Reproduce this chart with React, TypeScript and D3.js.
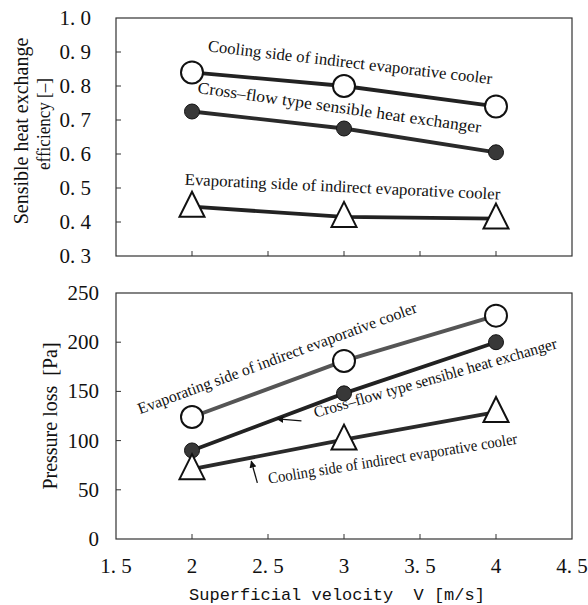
import React from "react";
import * as d3 from "d3";

// superficial velocity [m/s]
const velocity = [2, 3, 4];

// sensible heat exchange efficiency [-]
const effCooling = [0.84, 0.8, 0.74];
const effCross = [0.725, 0.675, 0.605];
const effEvap = [0.445, 0.415, 0.41];

// pressure loss [Pa]
const dpEvap = [124, 181, 227];
const dpCross = [90, 148, 200];
const dpCooling = [71, 101, 129];

const xTicks = [1.5, 2, 2.5, 3, 3.5, 4, 4.5];
const xTickLabels = ["1. 5", "2", "2. 5", "3", "3. 5", "4", "4. 5"];
const effTicks = [0.3, 0.4, 0.5, 0.6, 0.7, 0.8, 0.9, 1.0];
const effTickLabels = ["0. 3", "0. 4", "0. 5", "0. 6", "0. 7", "0. 8", "0. 9", "1. 0"];
const dpTicks = [0, 50, 100, 150, 200, 250];
const dpTickLabels = ["0", "50", "100", "150", "200", "250"];

// curve labels, placed in data units: [text, x, y, angle, length]
const effNotes: [string, number, number, number, number][] = [
  ["Cooling side of indirect evaporative cooler", 3.04, 0.87, 6.6, 286],
  ["Cross–flow type sensible heat exchanger", 2.97, 0.737, 8, 286],
  ["Evaporating side of indirect evaporative cooler", 2.99, 0.504, 2.7, 316],
];
const dpNotes: [string, number, number, number, number][] = [
  ["Evaporating side of indirect evaporative cooler", 2.56, 184, -20.2, 296],
  ["Cross–flow type sensible heat exchanger", 3.6, 164, -16, 252],
  ["Cooling side of indirect evaporative cooler", 3.32, 82, -9.1, 252],
];
// leader arrows: [tailX, tailY, tipX, tipY]
const dpArrows = [
  [2.72, 120, 2.56, 122],
  [2.43, 57, 2.39, 79],
];

const W = 588;
const H = 605;
const left = 116;
const right = 572;

const x = d3.scaleLinear().domain([1.5, 4.5]).range([left, right]);
const yEff = d3.scaleLinear().domain([0.3, 1.0]).range([256, 18]);
const yDp = d3.scaleLinear().domain([0, 250]).range([539, 293]);

const serif = "'Liberation Serif', 'Times New Roman', serif";
const mono = "'Liberation Mono', 'DejaVu Sans Mono', monospace";

const tri = "M0,-15L12.5,10L-12.5,10Z";

function Series({ vals, y, marker, color }: { vals: number[]; y: d3.ScaleLinear<number, number>; marker: string; color: string }) {
  const pts = velocity.map((v, i) => [x(v), y(vals[i])] as [number, number]);
  const line = d3.line()(pts) || "";
  return (
    <g>
      <path d={line} fill="none" stroke={color} strokeWidth={3.8} />
      {pts.map(([px, py], i) => {
        if (marker === "open") return <circle key={i} cx={px} cy={py} r={11} fill="#fff" stroke="#111" strokeWidth={2} />;
        if (marker === "filled") return <circle key={i} cx={px} cy={py} r={7.5} fill="#383838" stroke="#111" strokeWidth={1} />;
        return <path key={i} d={tri} transform={`translate(${px},${py})`} fill="#fff" stroke="#111" strokeWidth={2} />;
      })}
    </g>
  );
}

function Frame({ y, ticks }: { y: d3.ScaleLinear<number, number>; ticks: number[] }) {
  const [y0, y1] = y.range();
  return (
    <g>
      <rect x={left} y={y1} width={right - left} height={y0 - y1} fill="none" stroke="#333" strokeWidth={1.2} />
      {xTicks.slice(1, -1).map((t) => (
        <line key={"x" + t} x1={x(t)} x2={x(t)} y1={y0} y2={y0 - 5} stroke="#333" strokeWidth={1} />
      ))}
      {ticks.slice(1, -1).map((t) => (
        <line key={"y" + t} x1={left} x2={left + 5} y1={y(t)} y2={y(t)} stroke="#333" strokeWidth={1} />
      ))}
    </g>
  );
}

function Notes({ notes, y, size }: { notes: [string, number, number, number, number][]; y: d3.ScaleLinear<number, number>; size: number }) {
  return (
    <g>
      {notes.map(([t, nx, ny, a, len], i) => (
        <text key={i} transform={`translate(${x(nx)},${y(ny)}) rotate(${a})`} textAnchor="middle" dominantBaseline="central" fontFamily={serif} fontSize={size} textLength={len} lengthAdjust="spacingAndGlyphs" fill="#111">
          {t}
        </text>
      ))}
    </g>
  );
}

export default function App() {
  return (
    <svg width={W} height={H} style={{ position: "absolute", left: 0, top: 0, background: "#fff" }}>
      <defs>
        <marker id="ah" viewBox="0 0 10 10" refX="9" refY="5" markerWidth="7" markerHeight="7" markerUnits="userSpaceOnUse" orient="auto">
          <path d="M0,0L10,5L0,10Z" fill="#111" />
        </marker>
      </defs>

      {/* top panel: efficiency */}
      <Frame y={yEff} ticks={effTicks} />
      <Series vals={effCooling} y={yEff} marker="open" color="#222" />
      <Series vals={effCross} y={yEff} marker="filled" color="#2a2a2a" />
      <Series vals={effEvap} y={yEff} marker="tri" color="#222" />
      <Notes notes={effNotes} y={yEff} size={16.5} />
      {effTicks.map((t, i) => (
        <text key={t} x={91} y={yEff(t)} textAnchor="end" dominantBaseline="central" fontFamily={serif} fontSize={21} fill="#111" style={{ whiteSpace: "pre" }}>
          {effTickLabels[i]}
        </text>
      ))}
      <text transform={`translate(28,131) rotate(-90)`} textAnchor="middle" fontFamily={serif} fontSize={20} fill="#111">
        Sensible heat exchange
      </text>
      <text transform={`translate(50,124) rotate(-90)`} textAnchor="middle" fontFamily={serif} fontSize={19} textLength={92} lengthAdjust="spacingAndGlyphs" fill="#111">
        efficiency [–]
      </text>

      {/* bottom panel: pressure loss */}
      <Frame y={yDp} ticks={dpTicks} />
      <Series vals={dpEvap} y={yDp} marker="open" color="#555" />
      <Series vals={dpCross} y={yDp} marker="filled" color="#222" />
      <Series vals={dpCooling} y={yDp} marker="tri" color="#2a2a2a" />
      <Notes notes={dpNotes} y={yDp} size={16} />
      {dpArrows.map(([ax, ay, bx, by], i) => (
        <line key={i} x1={x(ax)} y1={yDp(ay)} x2={x(bx)} y2={yDp(by)} stroke="#111" strokeWidth={1.3} markerEnd="url(#ah)" />
      ))}
      {dpTicks.map((t, i) => (
        <text key={t} x={99} y={yDp(t)} textAnchor="end" dominantBaseline="central" fontFamily={serif} fontSize={21} fill="#111">
          {dpTickLabels[i]}
        </text>
      ))}
      <text transform={`translate(57,416) rotate(-90)`} textAnchor="middle" fontFamily={serif} fontSize={20} fill="#111" style={{ whiteSpace: "pre" }}>
        {"Pressure loss  [Pa]"}
      </text>

      {xTicks.map((t, i) => (
        <text key={t} x={x(t)} y={566} textAnchor="middle" dominantBaseline="central" fontFamily={serif} fontSize={21} fill="#111" style={{ whiteSpace: "pre" }}>
          {xTickLabels[i]}
        </text>
      ))}
      <text x={337} y={595} textAnchor="middle" dominantBaseline="central" fontFamily={mono} fontSize={17} fill="#111" style={{ whiteSpace: "pre" }}>
        {"Superficial velocity  V [m/s]"}
      </text>
    </svg>
  );
}
